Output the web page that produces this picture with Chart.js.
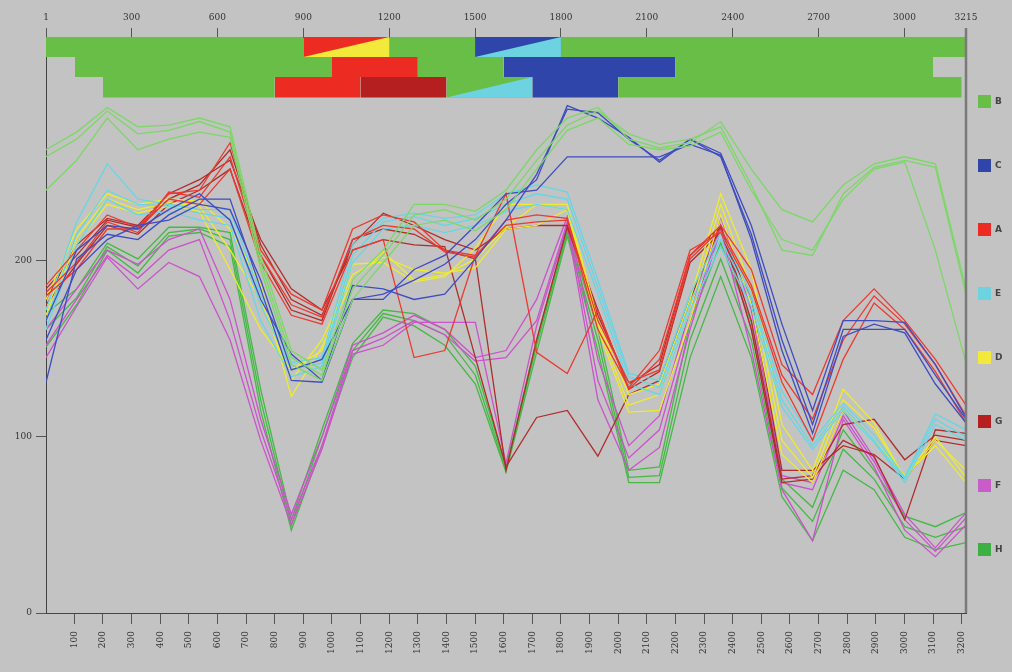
<!DOCTYPE html>
<html lang="en">
  <head>
    <meta charset="UTF-8" />
    <meta name="viewport" content="width=device-width, initial-scale=1.0" />
    <title>Haplotype profile</title>
    <script src="https://cdn.jsdelivr.net/npm/chart.js"></script>
    <style>
      html, body { margin: 0; padding: 0; background: #c3c3c3; }
      #wrap { width: 1012px; height: 672px; }
    </style>
  </head>
  <body>
    <div id="wrap"><canvas id="profileChart"></canvas></div>
    <script>
      // sample positions along the sequence
      const positions = [1, 108, 215, 322, 430, 537, 644, 751, 858, 965, 1072, 1179, 1287, 1394, 1501, 1608,
        1715, 1822, 1929, 2037, 2144, 2251, 2358, 2465, 2572, 2679, 2786, 2894, 3001, 3108, 3215];

      const xTicksBottom = [100, 200, 300, 400, 500, 600, 700, 800, 900, 1000, 1100, 1200, 1300, 1400, 1500, 1600,
        1700, 1800, 1900, 2000, 2100, 2200, 2300, 2400, 2500, 2600, 2700, 2800, 2900, 3000, 3100, 3200];
      const xTicksTop = [1, 300, 600, 900, 1200, 1500, 1800, 2100, 2400, 2700, 3000, 3215];
      const yTicks = [0, 100, 200];
      const legendOrder = ["B", "C", "A", "E", "D", "G", "F", "H"];

      const b1 = [263,273,287,276,277,281,276,203,149,138,189,206,232,232,228,240,263,281,287,269,264,267,279,252,229,222,243,255,259,255,184];
      const b2 = [259,269,285,272,274,279,273,199,145,135,184,203,226,229,223,235,257,277,285,272,266,269,276,243,206,203,238,253,257,253,181];
      const b3 = [240,257,281,263,269,273,270,195,141,132,178,199,220,223,217,229,252,274,281,266,263,265,273,240,212,206,235,252,256,206,142];

      const c1 = [166,206,220,218,229,238,223,178,147,132,186,184,178,181,201,223,249,286,284,269,257,269,261,220,164,115,166,166,165,141,111];
      const c2 = [131,201,215,212,226,235,235,184,132,131,178,181,189,198,212,232,246,288,281,270,256,269,259,215,155,107,161,161,161,135,110];
      const c3 = [155,195,212,220,223,232,229,189,138,144,178,178,195,203,220,238,240,259,259,259,259,266,260,212,149,102,157,164,159,130,108];

      const a1 = [186,206,226,219,238,240,267,206,181,172,218,226,222,206,203,238,148,136,172,127,144,203,220,195,141,124,166,184,166,144,118];
      const a2 = [182,199,222,216,239,236,259,203,175,168,212,220,218,205,202,223,226,224,166,131,138,201,218,186,135,110,155,180,164,141,112];
      const a3 = [180,195,218,218,235,232,252,199,169,164,206,212,145,149,203,220,222,223,161,128,149,206,216,184,131,98,144,176,161,137,108];

      const e1 = [172,222,255,235,232,229,229,181,142,145,209,224,227,224,226,238,243,239,189,136,132,181,216,181,126,98,119,101,77,113,104];
      const e2 = [166,215,240,232,231,227,224,175,138,142,203,222,225,220,224,232,238,235,185,134,128,176,212,178,121,95,117,98,76,110,100];
      const e3 = [161,209,235,226,228,223,220,166,134,140,199,218,220,216,220,228,232,229,181,130,124,172,208,174,117,93,115,97,74,107,98];

      const d1 = [178,218,238,232,235,234,218,186,123,151,189,205,189,192,201,219,232,232,166,124,130,178,238,195,107,81,127,108,76,98,81];
      const d2 = [172,213,235,229,233,231,206,178,132,155,192,202,195,193,196,218,220,229,164,118,124,172,232,184,98,77,121,105,77,100,77];
      const d3 = [169,210,232,227,231,228,195,161,138,149,198,199,188,191,207,232,232,229,161,114,115,166,226,175,90,74,115,98,78,95,74];

      const g1 = [184,203,223,219,235,243,263,209,178,169,209,227,220,212,206,218,220,220,169,130,141,203,219,161,74,76,98,89,53,104,102];
      const g2 = [178,209,224,220,238,246,257,212,184,172,206,212,209,208,145,83,111,115,89,124,132,178,220,166,76,78,107,110,87,101,98];
      const g3 = [175,198,220,215,232,240,252,203,172,166,212,218,215,206,201,81,155,219,172,127,137,199,216,178,81,81,95,90,76,98,95];

      const f1 = [161,184,206,198,212,218,178,110,56,100,152,159,169,161,145,149,178,225,144,95,112,172,225,172,78,74,115,88,56,37,57];
      const f2 = [152,178,203,190,206,212,166,104,53,95,149,156,166,158,143,145,166,222,132,88,104,166,220,161,74,70,112,86,53,35,54];
      const f3 = [145,174,202,184,199,191,155,98,50,93,147,152,165,165,165,85,163,220,121,81,94,161,218,149,70,41,110,83,47,32,50];

      const h1 = [170,184,210,201,219,219,216,127,53,104,153,172,170,161,140,83,155,218,161,81,83,165,210,165,76,60,104,81,55,49,57];
      const h2 = [161,179,208,197,216,218,212,121,50,100,149,170,166,158,135,81,152,216,155,77,78,155,201,155,71,52,93,76,49,43,49];
      const h3 = [151,175,206,193,214,216,208,115,47,95,145,168,163,152,130,80,148,214,149,74,74,145,191,145,66,41,81,70,43,36,40];

      // haplotype blocks across the top: [start, end, group, lower-right group]
      const bandRow1 = [[1, 900, "B"], [900, 1200, "A", "D"], [1200, 1500, "B"], [1500, 1800, "C", "E"], [1800, 3215, "B"]];
      const bandRow2 = [[102, 1000, "B"], [1000, 1300, "A"], [1300, 1600, "B"], [1600, 2200, "C"], [2200, 3100, "B"]];
      const bandRow3 = [[200, 800, "B"], [800, 1100, "A"], [1100, 1400, "G"], [1400, 1700, "B", "E"], [1700, 2000, "C"], [2000, 3200, "B"]];

      const groupColors = {
        B: "#68be47", C: "#2f45a9", A: "#ec2b22", E: "#6ed3e1",
        D: "#f2e93a", G: "#b51f1f", F: "#c85cc8", H: "#3cb043",
      };
      // thin lines read lighter than the solid blocks
      const lineColors = {
        B: "#7cd866", C: "#3f4cc0", A: "#ec3a30", E: "#66d6e6",
        D: "#eeec2c", G: "#b02c2c", F: "#cc52cc", H: "#44b944",
      };

      const lineGroups = [
        ["B", [b1, b2, b3]], ["C", [c1, c2, c3]], ["A", [a1, a2, a3]], ["E", [e1, e2, e3]],
        ["D", [d1, d2, d3]], ["G", [g1, g2, g3]], ["F", [f1, f2, f3]], ["H", [h1, h2, h3]],
      ];

      const datasets = [];
      lineGroups.forEach(([g, rows]) => {
        rows.forEach((vals) => {
          datasets.push({
            label: g,
            data: positions.map((x, i) => ({ x: x, y: vals[i] })),
            borderColor: lineColors[g],
            borderWidth: 1.3,
            pointRadius: 0,
            tension: 0,
            fill: false,
            order: 0,
          });
        });
      });

      // rows of the band in y units (axis max is 327)
      const rowEdges = [[327, 315.7], [315.7, 304.3], [304.3, 292.6]];
      [bandRow1, bandRow2, bandRow3].forEach((row, r) => {
        const [top, bottom] = rowEdges[r];
        row.forEach(([x1, x2, g, g2]) => {
          datasets.push({
            data: [{ x: x1, y: top }, { x: x2, y: top }],
            backgroundColor: groupColors[g],
            borderColor: groupColors[g],
            borderWidth: 0,
            pointRadius: 0,
            fill: { value: bottom },
            order: 2,
          });
          if (g2) {
            datasets.push({
              data: [{ x: x1, y: bottom }, { x: x2, y: top }],
              backgroundColor: groupColors[g2],
              borderColor: groupColors[g2],
              borderWidth: 0,
              pointRadius: 0,
              fill: { value: bottom },
              order: 1,
            });
          }
        });
      });

      const backdrop = {
        id: "backdrop",
        beforeDraw(chart) {
          const c = chart.ctx;
          c.save();
          c.fillStyle = "#c3c3c3";
          c.fillRect(0, 0, chart.width, chart.height);
          c.restore();
        },
        afterDatasetsDraw(chart) {
          const { ctx, chartArea } = chart;
          ctx.save();
          ctx.strokeStyle = "#7a7a7a";
          ctx.lineWidth = 2.5;
          ctx.beginPath();
          ctx.moveTo(chartArea.right, chartArea.top - 9);
          ctx.lineTo(chartArea.right, chartArea.bottom);
          ctx.stroke();
          ctx.restore();
        },
      };

      const groupLegend = {
        id: "groupLegend",
        afterDraw(chart) {
          const { ctx, chartArea } = chart;
          ctx.save();
          ctx.font = "bold 9px 'DejaVu Sans'";
          ctx.textBaseline = "middle";
          legendOrder.forEach((g, i) => {
            const cy = chartArea.top + 64 * (i + 1);
            ctx.fillStyle = groupColors[g];
            ctx.fillRect(chartArea.right + 12, cy - 6, 13, 13);
            ctx.fillStyle = "#444";
            ctx.fillText(g, chartArea.right + 29, cy + 1);
          });
          ctx.restore();
        },
      };

      const tickFont = { family: "'DejaVu Serif', serif", size: 9 };
      const plain = (v) => String(v);

      const ctx = document.getElementById("profileChart").getContext("2d");
      new Chart(ctx, {
        type: "line",
        data: { datasets: datasets },
        options: {
          responsive: true,
          maintainAspectRatio: false,
          animation: false,
          layout: { padding: { left: 0, right: 46, top: 0, bottom: 0 } },
          plugins: { legend: { display: false }, tooltip: { enabled: false } },
          scales: {
            x: {
              type: "linear",
              position: "bottom",
              min: 1,
              max: 3215,
              afterBuildTicks: (s) => { s.ticks = xTicksBottom.map((v) => ({ value: v })); },
              afterFit: (s) => { s.height = 59; },
              grid: { drawOnChartArea: false, tickLength: 11, color: "#555" },
              border: { color: "#444", width: 1 },
              ticks: { minRotation: 90, maxRotation: 90, autoSkip: false, color: "#333", font: tickFont, padding: 7, callback: plain },
            },
            xTop: {
              type: "linear",
              position: "top",
              min: 1,
              max: 3215,
              afterBuildTicks: (s) => { s.ticks = xTicksTop.map((v) => ({ value: v })); },
              afterFit: (s) => { s.height = 37; },
              grid: { drawOnChartArea: false, tickLength: 9, color: "#555" },
              border: { color: "#444", width: 1 },
              ticks: { maxRotation: 0, autoSkip: false, color: "#333", font: tickFont, padding: 5, callback: plain },
            },
            y: {
              type: "linear",
              min: 0,
              max: 327,
              afterBuildTicks: (s) => { s.ticks = yTicks.map((v) => ({ value: v })); },
              afterFit: (s) => { s.width = 46; },
              grid: { drawOnChartArea: false, tickLength: 10, color: "#555" },
              border: { color: "#444", width: 1 },
              ticks: { color: "#333", font: tickFont, padding: 4, callback: plain },
            },
          },
        },
        plugins: [backdrop, groupLegend],
      });
    </script>
  </body>
</html>
